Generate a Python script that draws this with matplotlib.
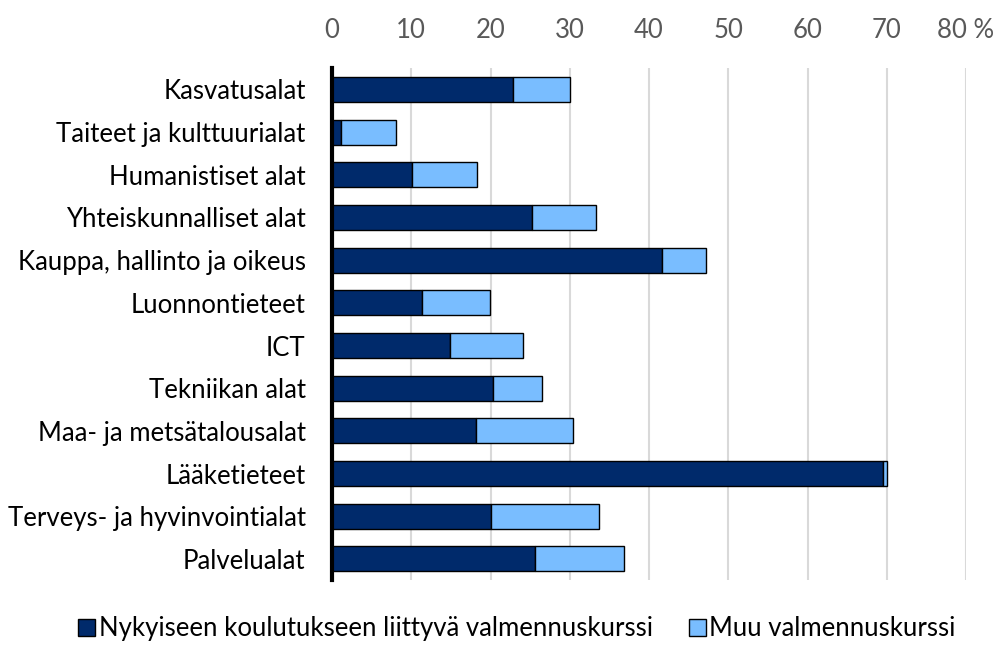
import matplotlib.pyplot as plt
import numpy as np

plt.rcParams['font.family'] = ['Lato', 'DejaVu Sans']

categories = ["Kasvatusalat", "Taiteet ja kulttuurialat", "Humanistiset alat",
              "Yhteiskunnalliset alat", "Kauppa, hallinto ja oikeus", "Luonnontieteet",
              "ICT", "Tekniikan alat", "Maa- ja metsätalousalat", "Lääketieteet",
              "Terveys- ja hyvinvointialat", "Palvelualat"]
current_course = [22.8, 1.1, 10.1, 25.2, 41.7, 11.4, 14.9, 20.3, 18.2, 69.5, 20.0, 25.6]
total = [30.0, 8.1, 18.3, 33.3, 47.2, 19.9, 24.1, 26.5, 30.4, 70.0, 33.7, 36.9]
other_course = [t - c for t, c in zip(total, current_course)]
ticks = [0, 10, 20, 30, 40, 50, 60, 70, 80]
tick_labels = ["0", "10", "20", "30", "40", "50", "60", "70", "80 %"]

dark = "#002a6b"
light = "#79bdff"

fig = plt.figure(figsize=(10, 6.49), dpi=100)
ax = fig.add_axes([0.332, 0.106, 0.634, 0.789])

y = np.arange(len(categories))
ax.barh(y, current_course, height=0.58, color=dark, edgecolor="black", linewidth=1,
        label="Nykyiseen koulutukseen liittyvä valmennuskurssi", zorder=3)
ax.barh(y, other_course, left=current_course, height=0.58, color=light, edgecolor="black",
        linewidth=1, label="Muu valmennuskurssi", zorder=3)

ax.set_ylim(len(categories) - 0.5, -0.5)
ax.set_yticks(y)
ax.set_yticklabels(categories, fontsize=18.5)
ax.set_xlim(0, 80)
ax.set_xticks(ticks)
ax.set_xticklabels(tick_labels, fontsize=18.5, color="#595959")
ax.xaxis.tick_top()
ax.tick_params(axis="x", length=0, pad=18)
ax.tick_params(axis="y", length=0, pad=19)

ax.grid(axis="x", color="#d9d9d9", linewidth=1.5, zorder=0)
for s in ["top", "right", "bottom"]:
    ax.spines[s].set_visible(False)
ax.spines["left"].set_linewidth(3)
ax.spines["left"].set_color("black")
ax.spines["left"].set_zorder(4)

fig.legend(loc="lower center", bbox_to_anchor=(0.517, -0.024), ncol=2, frameon=False,
           fontsize=18.5, handlelength=0.65, handleheight=0.65, handletextpad=0.15,
           columnspacing=1.4)

fig.savefig("out.png", dpi=100)
